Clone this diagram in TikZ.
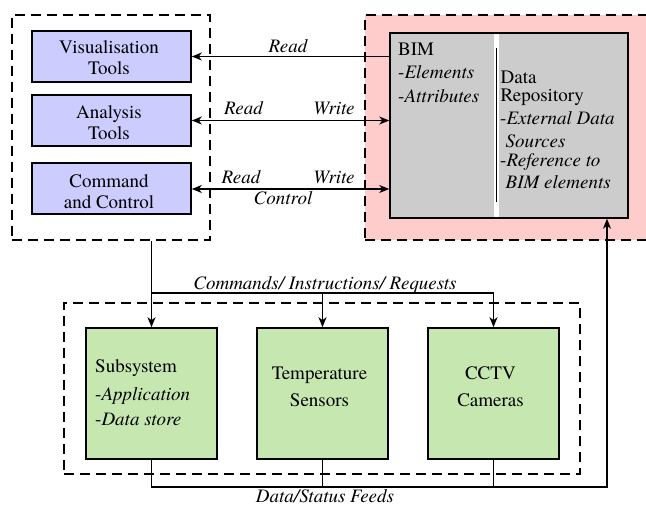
\documentclass[tikz,border=0pt]{standalone}
\usepackage{fontspec}
\setmainfont{texgyretermes}[Extension=.otf, UprightFont=*-regular, ItalicFont=*-italic, BoldFont=*-bold, BoldItalicFont=*-bolditalic]
\usetikzlibrary{arrows.meta}
\definecolor{toolfill}{HTML}{CCCCFF}
\definecolor{devfill}{HTML}{C6E8B0}
\definecolor{repofill}{HTML}{FFCCCC}
\definecolor{bimfill}{HTML}{CCCCCC}
\begin{document}
\begin{tikzpicture}[x=1pt,y=-1pt,
  every node/.style={inner sep=0pt},
  txt/.style={font=\fontsize{19}{21}\selectfont, anchor=base, align=center},
  ltxt/.style={font=\fontsize{19}{21}\selectfont, anchor=base west},
  lbl/.style={font=\fontsize{19}{21}\selectfont\itshape, anchor=base},
  group/.style={draw, line width=1.6pt, dash pattern=on 10pt off 6pt},
  toolbox/.style={draw, line width=1.6pt, fill=toolfill, minimum width=159pt, minimum height=51pt},
  devbox/.style={draw, line width=1.6pt, fill=devfill, minimum width=131pt, minimum height=131pt},
  conn/.style={line width=1.5pt},
  arr/.style={conn, -{Stealth[length=10pt,width=8pt,inset=3pt]}},
  darr/.style={conn, {Stealth[length=10pt,width=8pt,inset=3pt]}-{Stealth[length=10pt,width=8pt,inset=3pt]}}
]
\useasboundingbox (0,0) rectangle (646,505);

% groups
\node[group] (clients) at (111,127.5) [minimum width=198pt, minimum height=225pt] {};
\node[group, fill=repofill] (store) at (507.5,127.5) [minimum width=285pt, minimum height=225pt] {};
\node[group] (devices) at (322,388.5) [minimum width=516pt, minimum height=171pt] {};

% client tools
\node[toolbox] (vis) at (111.5,56.5) {};
\node[toolbox] (ana) at (111.5,120.5) {};
\node[toolbox] (cmd) at (111.5,188.5) {};
\node[txt] (visT) at (109,75) {Visualisation\\Tools};
\node[txt] (anaT) at (109,139.5) {Analysis\\Tools};
\node[txt] (cmdT) at (109,208.5) {Command\\and Control};

% BIM / data repository
\node[draw, line width=1.5pt, fill=bimfill, minimum width=238pt, minimum height=185pt] (bim) at (509,125.5) {};
\fill[white] (494.3,34) rectangle (499,217);
\draw[line width=1.5pt] (496.7,48) -- (496.7,202);
\node[ltxt] (bim1) at (398,55.7) {BIM};
\node[ltxt] (bim2) at (398,79) {-\textit{Elements}};
\node[ltxt] (bim3) at (398,103) {-\textit{Attributes}};
\node[ltxt] (rep1) at (500.5,84) {Data};
\node[ltxt] (rep2) at (500.5,101.7) {Repository};
\node[ltxt] (rep3) at (500,125) {-\textit{External Data}};
\node[ltxt] (rep4) at (505.5,147.3) {\textit{Sources}};
\node[ltxt] (rep5) at (500,166.7) {-\textit{Reference to}};
\node[ltxt] (rep6) at (505.5,188.3) {\textit{BIM elements}};

% subsystems
\node[devbox] (sub) at (151.5,393.5) {};
\node[devbox] (temp) at (322.5,393.5) {};
\node[devbox] (cam) at (493.5,393.5) {};
\node[ltxt] (sub1) at (95,373) {Subsystem};
\node[ltxt] (sub2) at (95,400) {-\textit{Application}};
\node[ltxt] (sub3) at (95,425) {-\textit{Data store}};
\node[txt] (tempT) at (319.5,406.5) {Temperature\\[6pt]Sensors};
\node[txt] (camT) at (490.5,406.5) {CCTV\\[6pt]Cameras};

% tool <-> repository links
\draw[arr] (vis.east -| bim.west) -- (vis.east);
\draw[darr] (ana.east) -- (ana.east -| bim.west);
\draw[darr] ([yshift=-0.5pt]cmd.east) -- ([yshift=-0.5pt]cmd.east -| bim.west);
\node[lbl] (rdV) at (288,53) {Read};
\node[lbl] (rdA) at (243.5,115) {Read};
\node[lbl] (wrA) at (334,115) {Write};
\node[lbl] (rdC) at (241,184) {Read};
\node[lbl] (wrC) at (334,184) {Write};
\node[lbl] (ctC) at (283,205) {Control};

% command bus
\coordinate (bus) at (0,293);
\draw[arr] (sub.north |- clients.south) -- (sub.north);
\draw[conn] (sub.north |- bus) -- (cam.north |- bus);
\draw[arr] (temp.north |- bus) -- (temp.north);
\draw[arr] (cam.north |- bus) -- (cam.north);
\node[lbl] (busT) at (325,290) {Commands/ Instructions/ Requests};

% feedback bus
\coordinate (fd) at (607,487);
\draw[arr] (sub.south) |- (fd) -- (fd |- bim.south);
\draw[conn] (temp.south) -- (temp.south |- fd);
\draw[conn] (cam.south) -- (cam.south |- fd);
\node[lbl] (fdT) at (325,502.5) {Data/Status Feeds};
\end{tikzpicture}
\end{document}
